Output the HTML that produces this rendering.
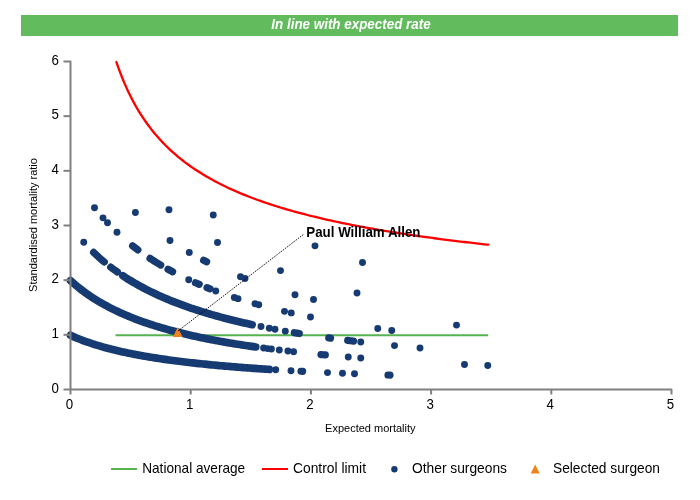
<!DOCTYPE html>
<html><head><meta charset="utf-8"><title>Funnel plot</title>
<style>html,body{margin:0;padding:0;background:#fff;}body{width:700px;height:500px;overflow:hidden;font-family:"Liberation Sans",Arial,sans-serif;}svg{display:block}text{font-family:"Liberation Sans",Arial,sans-serif;}</style>
</head><body>
<svg width="700" height="500" viewBox="0 0 700 500">
<rect x="0" y="0" width="700" height="500" fill="#ffffff"/>
<rect x="21" y="15" width="657" height="21" fill="#62bb5d"/>
<text transform="translate(351,29.2) scale(0.965,1)" text-anchor="middle" font-size="13.9" font-weight="bold" font-style="italic" fill="#ffffff">In line with expected rate</text>
<line x1="115.5" y1="335.33" x2="488.2" y2="335.33" stroke="#55b350" stroke-width="2"/>
<g font-size="14.3" fill="#000000">
<text transform="translate(58.9,392.70) scale(0.93,1)" text-anchor="end">0</text>
<text transform="translate(58.9,338.03) scale(0.93,1)" text-anchor="end">1</text>
<text transform="translate(58.9,283.36) scale(0.93,1)" text-anchor="end">2</text>
<text transform="translate(58.9,228.69) scale(0.93,1)" text-anchor="end">3</text>
<text transform="translate(58.9,174.02) scale(0.93,1)" text-anchor="end">4</text>
<text transform="translate(58.9,119.35) scale(0.93,1)" text-anchor="end">5</text>
<text transform="translate(58.9,64.68) scale(0.93,1)" text-anchor="end">6</text>
<text transform="translate(69.50,409.3) scale(0.93,1)" text-anchor="middle">0</text>
<text transform="translate(189.70,409.3) scale(0.93,1)" text-anchor="middle">1</text>
<text transform="translate(309.90,409.3) scale(0.93,1)" text-anchor="middle">2</text>
<text transform="translate(430.10,409.3) scale(0.93,1)" text-anchor="middle">3</text>
<text transform="translate(550.30,409.3) scale(0.93,1)" text-anchor="middle">4</text>
<text transform="translate(670.50,409.3) scale(0.93,1)" text-anchor="middle">5</text>
</g>
<text transform="translate(370.3,432) scale(0.94,1)" text-anchor="middle" font-size="11.7" fill="#000000">Expected mortality</text>
<text transform="translate(36.6,225) rotate(-90) scale(0.94,1)" text-anchor="middle" font-size="11.7" fill="#000000">Standardised mortality ratio</text>
<path d="M116.42,62.01 L118.42,67.77 L120.42,73.19 L122.42,78.29 L124.42,83.10 L126.42,87.65 L128.42,91.96 L130.42,96.06 L132.42,99.96 L134.42,103.67 L136.42,107.21 L138.42,110.59 L140.42,113.83 L142.42,116.93 L144.42,119.91 L146.42,122.76 L148.42,125.51 L150.42,128.15 L152.42,130.70 L154.42,133.15 L156.42,135.52 L158.42,137.80 L160.42,140.01 L162.42,142.15 L164.42,144.22 L166.42,146.22 L168.42,148.16 L170.42,150.04 L172.42,151.87 L174.42,153.65 L176.42,155.37 L178.42,157.04 L180.42,158.67 L182.42,160.26 L184.42,161.80 L186.42,163.31 L188.42,164.77 L190.42,166.20 L192.42,167.59 L194.42,168.95 L196.42,170.28 L198.42,171.57 L200.42,172.84 L202.42,174.08 L204.42,175.28 L206.42,176.47 L208.42,177.62 L210.42,178.75 L212.42,179.86 L214.42,180.95 L216.42,182.01 L218.42,183.05 L220.42,184.07 L222.42,185.07 L224.42,186.04 L226.42,187.01 L228.42,187.95 L230.42,188.87 L232.42,189.78 L234.42,190.67 L236.42,191.54 L238.42,192.40 L240.42,193.25 L242.42,194.08 L244.42,194.89 L246.42,195.69 L248.42,196.48 L250.42,197.25 L252.42,198.01 L254.42,198.76 L256.42,199.50 L258.42,200.22 L260.42,200.94 L262.42,201.64 L264.42,202.33 L266.42,203.01 L268.42,203.68 L270.42,204.34 L272.42,204.99 L274.42,205.63 L276.42,206.26 L278.42,206.89 L280.42,207.50 L282.42,208.10 L284.42,208.70 L286.42,209.29 L288.42,209.87 L290.42,210.44 L292.42,211.00 L294.42,211.56 L296.42,212.11 L298.42,212.65 L300.42,213.19 L302.42,213.71 L304.42,214.23 L306.42,214.75 L308.42,215.26 L310.42,215.76 L312.42,216.25 L314.42,216.74 L316.42,217.23 L318.42,217.70 L320.42,218.17 L322.42,218.64 L324.42,219.10 L326.42,219.56 L328.42,220.01 L330.42,220.45 L332.42,220.89 L334.42,221.32 L336.42,221.75 L338.42,222.18 L340.42,222.60 L342.42,223.01 L344.42,223.42 L346.42,223.83 L348.42,224.23 L350.42,224.63 L352.42,225.02 L354.42,225.41 L356.42,225.80 L358.42,226.18 L360.42,226.56 L362.42,226.93 L364.42,227.30 L366.42,227.66 L368.42,228.03 L370.42,228.39 L372.42,228.74 L374.42,229.09 L376.42,229.44 L378.42,229.78 L380.42,230.12 L382.42,230.46 L384.42,230.80 L386.42,231.13 L388.42,231.46 L390.42,231.78 L392.42,232.10 L394.42,232.42 L396.42,232.74 L398.42,233.05 L400.42,233.36 L402.42,233.67 L404.42,233.98 L406.42,234.28 L408.42,234.58 L410.42,234.87 L412.42,235.17 L414.42,235.46 L416.42,235.75 L418.42,236.04 L420.42,236.32 L422.42,236.60 L424.42,236.88 L426.42,237.16 L428.42,237.43 L430.42,237.71 L432.42,237.98 L434.42,238.24 L436.42,238.51 L438.42,238.77 L440.42,239.03 L442.42,239.29 L444.42,239.55 L446.42,239.81 L448.42,240.06 L450.42,240.31 L452.42,240.56 L454.42,240.81 L456.42,241.05 L458.42,241.29 L460.42,241.54 L462.42,241.78 L464.42,242.01 L466.42,242.25 L468.42,242.48 L470.42,242.72 L472.42,242.95 L474.42,243.18 L476.42,243.40 L478.42,243.63 L480.42,243.85 L482.42,244.08 L484.42,244.30 L486.42,244.52 L488.20,244.71" fill="none" stroke="#ff0000" stroke-width="2.3" stroke-linejoin="round" stroke-linecap="round"/>
<g fill="none" stroke="#163a72" stroke-linecap="round" stroke-linejoin="round">
<path d="M70.50,335.33 L72.51,336.23 L74.52,337.10 L76.52,337.94 L78.53,338.75 L80.54,339.54 L82.55,340.31 L84.56,341.05 L86.56,341.78 L88.57,342.48 L90.58,343.16 L92.59,343.82 L94.60,344.46 L96.61,345.08 L98.61,345.69 L100.62,346.28 L102.63,346.86 L104.64,347.42 L106.65,347.97 L108.65,348.50 L110.66,349.02 L112.67,349.53 L114.68,350.02 L116.69,350.51 L118.69,350.98 L120.70,351.44 L122.71,351.89 L124.72,352.32 L126.73,352.75 L128.73,353.17 L130.74,353.58 L132.75,353.98 L134.76,354.38 L136.77,354.76 L138.77,355.13 L140.78,355.50 L142.79,355.86 L144.80,356.21 L146.81,356.56 L148.82,356.90 L150.82,357.23 L152.83,357.55 L154.84,357.87 L156.85,358.18 L158.86,358.49 L160.86,358.79 L162.87,359.09 L164.88,359.38 L166.89,359.66 L168.90,359.94 L170.90,360.21 L172.91,360.48 L174.92,360.74 L176.93,361.00 L178.94,361.26 L180.94,361.51 L182.95,361.75 L184.96,362.00 L186.97,362.23 L188.98,362.47 L190.98,362.70 L192.99,362.92 L195.00,363.15 L197.01,363.36 L199.02,363.58 L201.03,363.79 L203.03,364.00 L205.04,364.20 L207.05,364.41 L209.06,364.60 L211.07,364.80 L213.07,364.99 L215.08,365.18 L217.09,365.37 L219.10,365.55 L221.11,365.73 L223.11,365.91 L225.12,366.09 L227.13,366.26 L229.14,366.43 L231.15,366.60 L233.15,366.77 L235.16,366.93 L237.17,367.09 L239.18,367.25 L241.19,367.41 L243.19,367.56 L245.20,367.72 L247.21,367.87 L249.22,368.02 L251.23,368.16 L253.24,368.31 L255.24,368.45 L257.25,368.59 L259.26,368.73 L261.27,368.87 L263.28,369.00 L265.28,369.14 L267.29,369.27 L269.30,369.40" stroke-width="7.7"/>
<path d="M301.00,371.26 L302.60,371.35" stroke-width="7.2"/>
<path d="M388.00,374.99 L390.00,375.05" stroke-width="7.2"/>
<path d="M70.50,280.66 L72.51,282.46 L74.53,284.20 L76.54,285.89 L78.55,287.52 L80.57,289.11 L82.58,290.64 L84.59,292.13 L86.60,293.58 L88.62,294.98 L90.63,296.34 L92.64,297.67 L94.66,298.96 L96.67,300.21 L98.68,301.43 L100.70,302.61 L102.71,303.77 L104.72,304.89 L106.73,305.99 L108.75,307.05 L110.76,308.09 L112.77,309.11 L114.79,310.10 L116.80,311.07 L118.81,312.01 L120.83,312.93 L122.84,313.83 L124.85,314.71 L126.87,315.56 L128.88,316.40 L130.89,317.22 L132.90,318.03 L134.92,318.81 L136.93,319.58 L138.94,320.33 L140.96,321.07 L142.97,321.79 L144.98,322.49 L147.00,323.18 L149.01,323.86 L151.02,324.52 L153.03,325.17 L155.05,325.81 L157.06,326.44 L159.07,327.05 L161.09,327.65 L163.10,328.24 L165.11,328.82 L167.13,329.39 L169.14,329.94 L171.15,330.49 L173.17,331.03 L175.18,331.56 L177.19,332.08 L179.20,332.58 L181.22,333.08 L183.23,333.58 L185.24,334.06 L187.26,334.54 L189.27,335.00 L191.28,335.46 L193.30,335.91 L195.31,336.36 L197.32,336.80 L199.33,337.23 L201.35,337.65 L203.36,338.07 L205.37,338.48 L207.39,338.88 L209.40,339.28 L211.41,339.67 L213.43,340.05 L215.44,340.43 L217.45,340.80 L219.47,341.17 L221.48,341.53 L223.49,341.89 L225.50,342.24 L227.52,342.59 L229.53,342.93 L231.54,343.27 L233.56,343.60 L235.57,343.93 L237.58,344.25 L239.60,344.57 L241.61,344.88 L243.62,345.19 L245.63,345.50 L247.65,345.80 L249.66,346.10 L251.67,346.39 L253.69,346.68 L255.70,346.97" stroke-width="7.7"/>
<path d="M321.00,354.55 L323.15,354.75 L325.30,354.95" stroke-width="7.2"/>
<path d="M93.60,252.43 L95.74,254.45 L97.88,256.42 L100.02,258.33 L102.16,260.18 L104.30,261.99" stroke-width="7.2"/>
<path d="M110.70,267.09 L112.93,268.78 L115.17,270.42 L117.40,272.02" stroke-width="7.2"/>
<path d="M122.90,275.78 L124.92,277.10 L126.94,278.39 L128.96,279.65 L130.97,280.89 L132.99,282.09 L135.01,283.27 L137.03,284.43 L139.05,285.55 L141.07,286.66 L143.09,287.74 L145.11,288.80 L147.12,289.84 L149.14,290.86 L151.16,291.85 L153.18,292.83 L155.20,293.79 L157.22,294.73 L159.24,295.65 L161.26,296.55 L163.28,297.44 L165.29,298.30 L167.31,299.16 L169.33,299.99 L171.35,300.82 L173.37,301.62 L175.39,302.42 L177.41,303.19 L179.43,303.96 L181.44,304.71 L183.46,305.45 L185.48,306.18 L187.50,306.89 L189.52,307.59 L191.54,308.28 L193.56,308.96 L195.57,309.62 L197.59,310.28 L199.61,310.93 L201.63,311.56 L203.65,312.19 L205.67,312.80 L207.69,313.41 L209.71,314.00 L211.72,314.59 L213.74,315.17 L215.76,315.74 L217.78,316.30 L219.80,316.85 L221.82,317.39 L223.84,317.93 L225.86,318.46 L227.88,318.98 L229.89,319.49 L231.91,320.00 L233.93,320.49 L235.95,320.99 L237.97,321.47 L239.99,321.95 L242.01,322.42 L244.02,322.88 L246.04,323.34 L248.06,323.79 L250.08,324.24 L252.10,324.68" stroke-width="7.7"/>
<path d="M294.30,332.69 L296.80,333.11 L299.30,333.51" stroke-width="7.2"/>
<path d="M328.75,337.91 L330.50,338.15" stroke-width="7.2"/>
<path d="M347.70,340.39 L350.60,340.75 L353.50,341.11" stroke-width="7.2"/>
<path d="M132.60,245.81 L135.25,247.88 L137.90,249.89" stroke-width="7.2"/>
<path d="M150.00,258.38 L152.14,259.77 L154.28,261.14 L156.42,262.48 L158.56,263.79 L160.70,265.07" stroke-width="7.2"/>
<path d="M168.00,269.26 L170.30,270.52 L172.60,271.76" stroke-width="7.2"/>
<path d="M195.50,282.80 L199.20,284.39" stroke-width="7.2"/>
<path d="M207.00,287.60 L210.00,288.79" stroke-width="7.2"/>
<path d="M203.60,260.29 L206.60,261.80" stroke-width="7.2"/>
</g>
<g fill="#163a72">
<circle cx="275.70" cy="369.81" r="3.45"/>
<circle cx="291.00" cy="370.71" r="3.45"/>
<circle cx="327.50" cy="372.58" r="3.45"/>
<circle cx="342.50" cy="373.24" r="3.45"/>
<circle cx="354.50" cy="373.74" r="3.45"/>
<circle cx="263.60" cy="348.05" r="3.45"/>
<circle cx="267.60" cy="348.58" r="3.45"/>
<circle cx="271.40" cy="349.07" r="3.45"/>
<circle cx="279.30" cy="350.05" r="3.45"/>
<circle cx="287.90" cy="351.07" r="3.45"/>
<circle cx="293.60" cy="351.72" r="3.45"/>
<circle cx="348.25" cy="356.97" r="3.45"/>
<circle cx="360.75" cy="357.98" r="3.45"/>
<circle cx="464.50" cy="364.44" r="3.45"/>
<circle cx="487.75" cy="365.55" r="3.45"/>
<circle cx="83.75" cy="242.27" r="3.45"/>
<circle cx="261.00" cy="326.55" r="3.45"/>
<circle cx="269.30" cy="328.20" r="3.45"/>
<circle cx="275.00" cy="329.29" r="3.45"/>
<circle cx="285.30" cy="331.15" r="3.45"/>
<circle cx="360.75" cy="341.97" r="3.45"/>
<circle cx="394.50" cy="345.62" r="3.45"/>
<circle cx="420.00" cy="348.03" r="3.45"/>
<circle cx="94.50" cy="207.72" r="3.45"/>
<circle cx="103.00" cy="217.86" r="3.45"/>
<circle cx="107.50" cy="222.79" r="3.45"/>
<circle cx="117.00" cy="232.32" r="3.45"/>
<circle cx="188.75" cy="279.77" r="3.45"/>
<circle cx="215.75" cy="290.98" r="3.45"/>
<circle cx="234.30" cy="297.45" r="3.45"/>
<circle cx="238.00" cy="298.64" r="3.45"/>
<circle cx="284.50" cy="311.35" r="3.45"/>
<circle cx="291.25" cy="312.91" r="3.45"/>
<circle cx="310.50" cy="317.03" r="3.45"/>
<circle cx="377.75" cy="328.51" r="3.45"/>
<circle cx="391.75" cy="330.46" r="3.45"/>
<circle cx="255.00" cy="303.73" r="3.45"/>
<circle cx="258.75" cy="304.78" r="3.45"/>
<circle cx="240.50" cy="276.78" r="3.45"/>
<circle cx="245.00" cy="278.51" r="3.45"/>
<circle cx="135.40" cy="212.49" r="3.45"/>
<circle cx="170.00" cy="240.45" r="3.45"/>
<circle cx="189.25" cy="252.50" r="3.45"/>
<circle cx="295.00" cy="294.68" r="3.45"/>
<circle cx="313.50" cy="299.54" r="3.45"/>
<circle cx="456.50" cy="325.09" r="3.45"/>
<circle cx="169.00" cy="209.72" r="3.45"/>
<circle cx="217.50" cy="242.44" r="3.45"/>
<circle cx="280.50" cy="270.59" r="3.45"/>
<circle cx="357.00" cy="293.05" r="3.45"/>
<circle cx="213.25" cy="215.06" r="3.45"/>
<circle cx="315.00" cy="245.85" r="3.45"/>
<circle cx="362.50" cy="262.46" r="3.45"/>
</g>
<path d="M63.5,61.48 H70.5 V389.5 H671.50 V394.5" stroke="#808080" stroke-width="2" fill="none" stroke-linejoin="round"/>
<g stroke="#808080" stroke-width="2" fill="none">
<line x1="63.5" y1="389.50" x2="70.5" y2="389.50"/>
<line x1="63.5" y1="334.83" x2="70.5" y2="334.83"/>
<line x1="63.5" y1="280.16" x2="70.5" y2="280.16"/>
<line x1="63.5" y1="225.49" x2="70.5" y2="225.49"/>
<line x1="63.5" y1="170.82" x2="70.5" y2="170.82"/>
<line x1="63.5" y1="116.15" x2="70.5" y2="116.15"/>
<line x1="70.50" y1="389.5" x2="70.50" y2="394.5"/>
<line x1="190.70" y1="389.5" x2="190.70" y2="394.5"/>
<line x1="310.90" y1="389.5" x2="310.90" y2="394.5"/>
<line x1="431.10" y1="389.5" x2="431.10" y2="394.5"/>
<line x1="551.30" y1="389.5" x2="551.30" y2="394.5"/>
</g>
<polygon points="177.7,327.2 182.6,337 172.8,337" fill="#f0841c"/>
<line x1="178" y1="331" x2="304" y2="234" stroke="#000000" stroke-width="0.9" stroke-dasharray="1.6 1.1"/>
<text transform="translate(306.3,236.8) scale(0.96,1)" font-size="13.9" font-weight="bold" fill="#000000">Paul William Allen</text>
<line x1="111" y1="469" x2="137" y2="469" stroke="#55b350" stroke-width="2"/>
<line x1="262" y1="469" x2="288" y2="469" stroke="#ff0000" stroke-width="2"/>
<circle cx="394.4" cy="469.3" r="3.2" fill="#163a72"/>
<polygon points="535.2,464.6 539.7,473.6 530.7,473.6" fill="#f0841c"/>
<g font-size="13.9" fill="#000000">
<text x="142.2" y="472.8" textLength="103" lengthAdjust="spacingAndGlyphs">National average</text>
<text x="293" y="472.8" textLength="73" lengthAdjust="spacingAndGlyphs">Control limit</text>
<text x="412" y="472.8" textLength="95" lengthAdjust="spacingAndGlyphs">Other surgeons</text>
<text x="553" y="472.8" textLength="107" lengthAdjust="spacingAndGlyphs">Selected surgeon</text>
</g>
</svg></body></html>
